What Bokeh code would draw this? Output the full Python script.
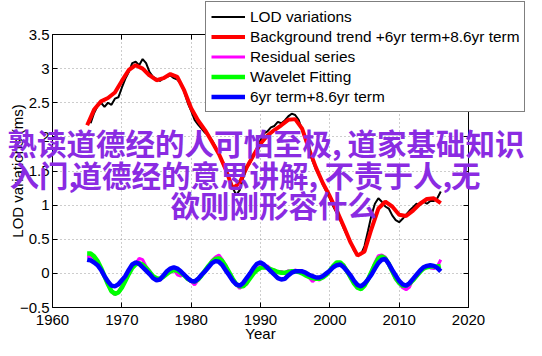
import numpy as np
from bokeh.plotting import figure
from bokeh.models import (Legend, LegendItem, LinearAxis, Label, FixedTicker,
                          Range1d, CustomJSTickFormatter)
from bokeh.embed import file_html
from bokeh.resources import INLINE

# ---------------- data ----------------
x_ticks = [1960, 1970, 1980, 1990, 2000, 2010, 2020]
y_ticks = [-0.5, 0, 0.5, 1, 1.5, 2, 2.5, 3, 3.5]
y_tick_labels = ["\u22120.5", "0", "0.5", "1", "1.5", "2", "2.5", "3", "3.5"]
x_lim = (1960, 2020)
y_lim = (-0.5, 3.5)

trend_years = list(range(1965, 2017))
trend_vals = [2.17, 2.40, 2.52, 2.57, 2.65, 2.82, 2.98, 3.05, 3.00, 2.90,
              2.83, 2.86, 2.92, 2.88, 2.68, 2.42, 2.24, 2.10, 1.93, 1.75,
              1.52, 1.24, 1.33, 1.55, 1.73, 1.90, 2.02, 2.10, 2.17, 2.25,
              2.26, 2.12, 1.82, 1.55, 1.32, 1.13, 0.92, 0.69, 0.45, 0.26,
              0.32, 0.65, 0.95, 1.05, 0.98, 0.86, 0.84, 0.92, 1.02, 1.09,
              1.10, 1.03]

lod_start = 1965.5
lod_vals = [2.20, 2.35, 2.45, 2.50, 2.44, 2.50, 2.47, 2.56, 2.58, 2.72,
            2.85, 2.95, 3.08, 3.10, 3.05, 3.14, 3.08, 2.95, 2.88, 2.85,
            2.82, 2.86, 2.88, 2.90, 2.86, 2.84, 2.78, 2.66, 2.50, 2.38,
            2.25, 2.18, 2.12, 2.06, 2.02, 1.95, 1.86, 1.75, 1.62, 1.50,
            1.38, 1.25, 1.15, 1.22, 1.40, 1.55, 1.62, 1.72, 1.85, 1.95,
            2.05, 2.08, 2.14, 2.16, 2.22, 2.20, 2.24, 2.30, 2.34, 2.32,
            2.25, 2.10, 1.95, 1.80, 1.65, 1.52, 1.42, 1.30, 1.20, 1.10,
            0.98, 0.88, 0.78, 0.66, 0.55, 0.45, 0.33, 0.27, 0.28, 0.40,
            0.62, 0.85, 1.02, 1.10, 1.05, 0.98, 0.95, 0.85, 0.78, 0.75,
            0.80, 0.86, 0.92, 0.97, 1.02, 1.00, 1.05, 1.02, 1.06, 1.06,
            1.10, 1.20]

osc_start = 1965.0
residual_vals = [0.24, 0.25, 0.20, 0.16, 0.05, -0.06, -0.17, -0.27, -0.31, -0.27,
                 -0.18, -0.12, 0.02, 0.12, 0.14, 0.22, 0.20, 0.10, 0.04, -0.05,
                 -0.08, -0.10, -0.04, 0.02, 0.01, 0.05, -0.02, -0.04, 0.00, -0.09,
                 -0.12, -0.17, -0.10, -0.04, 0.05, 0.10, 0.19, 0.24, 0.27, 0.20,
                 0.12, 0.00, -0.10, -0.17, -0.22, -0.18, -0.16, -0.06, 0.02, 0.06,
                 0.10, 0.08, 0.11, 0.06, 0.05, 0.01, 0.03, 0.00, 0.04, 0.02,
                 0.05, 0.03, 0.04, -0.02, -0.06, -0.12, -0.08, -0.10, -0.05, 0.00,
                 0.05, 0.10, 0.15, 0.14, 0.13, 0.02, -0.08, -0.14, -0.22, -0.21,
                 -0.17, -0.07, 0.03, 0.16, 0.26, 0.27, 0.24, 0.12, 0.02, -0.09,
                 -0.15, -0.21, -0.24, -0.20, -0.08, -0.05, 0.04, 0.06, 0.10, 0.08,
                 0.07, 0.10, 0.20]

wavelet_vals = [0.29, 0.29, 0.25, 0.18, 0.08, -0.04, -0.16, -0.26, -0.30, -0.28,
                -0.21, -0.11, -0.01, 0.08, 0.13, 0.15, 0.13, 0.08, 0.02, -0.04,
                -0.07, -0.08, -0.05, -0.01, 0.03, 0.05, 0.04, 0.01, -0.03, -0.08,
                -0.11, -0.12, -0.09, -0.03, 0.04, 0.11, 0.17, 0.21, 0.22, 0.18,
                0.10, 0.01, -0.08, -0.16, -0.19, -0.19, -0.14, -0.07, 0.00, 0.05,
                0.08, 0.09, 0.08, 0.06, 0.04, 0.02, 0.01, 0.01, 0.02, 0.03,
                0.03, 0.02, 0.00, -0.03, -0.05, -0.07, -0.08, -0.08, -0.06, -0.02,
                0.04, 0.11, 0.16, 0.16, 0.11, 0.03, -0.06, -0.15, -0.21, -0.23,
                -0.18, -0.09, 0.02, 0.13, 0.22, 0.25, 0.22, 0.14, 0.03, -0.07,
                -0.14, -0.18, -0.18, -0.15, -0.10, -0.04, 0.02, 0.07, 0.09, 0.10,
                0.10, 0.10, 0.11]

terms_vals = [0.20, 0.19, 0.16, 0.12, 0.05, -0.04, -0.12, -0.18, -0.19, -0.16,
              -0.10, -0.04, 0.05, 0.13, 0.16, 0.14, 0.09, 0.04, -0.01, -0.07,
              -0.10, -0.09, -0.03, 0.03, 0.07, 0.09, 0.07, 0.03, -0.02, -0.07,
              -0.11, -0.12, -0.08, -0.02, 0.03, 0.09, 0.15, 0.18, 0.17, 0.12,
              0.04, -0.03, -0.11, -0.16, -0.18, -0.14, -0.07, 0.00, 0.08, 0.14,
              0.16, 0.13, 0.08, 0.03, -0.02, -0.07, -0.09, -0.08, -0.03, 0.01,
              0.03, 0.03, 0.03, 0.01, -0.02, -0.04, -0.06, -0.06, -0.04, 0.00,
              0.04, 0.09, 0.12, 0.13, 0.09, 0.03, -0.03, -0.11, -0.17, -0.19,
              -0.15, -0.09, -0.02, 0.07, 0.15, 0.20, 0.21, 0.14, 0.05, -0.03,
              -0.11, -0.16, -0.18, -0.14, -0.08, -0.02, 0.04, 0.09, 0.11, 0.12,
              0.11, 0.08, 0.03]

series_names = ["LOD variations", "Background trend +6yr term+8.6yr term",
                "Residual series", "Wavelet Fitting", "6yr term+8.6yr term"]

# overlay caption, one list of pieces per text line
overlay_lines = [["熟读道德经的人可怕至极,", "道家基础知识"],
                 ["入门,", "道德经的意思讲解,", "不责于人,", "无"],
                 ["欲则刚形容什么"]]


def half_years(start, n):
    return [start + 0.5 * i for i in range(n)]


# ---------------- layout (pixels) ----------------
W, H = 526, 340
BOX_L, BOX_R, BOX_T, BOX_B = 52, 468, 34, 307   # axes box inside the canvas
ppx = (BOX_R - BOX_L) / (x_lim[1] - x_lim[0])
ppy = (BOX_B - BOX_T) / (y_lim[1] - y_lim[0])
xr = Range1d(x_lim[0] - BOX_L / ppx, x_lim[1] + (W - BOX_R) / ppx)
yr = Range1d(y_lim[0] - (H - BOX_B) / ppy, y_lim[1] + BOX_T / ppy)


def px_x(px):
    return xr.start + px / ppx


def px_y(py):
    return yr.end - py / ppy


FONT = "Liberation Sans"
p = figure(width=W, height=H, output_backend="svg", toolbar_location=None,
           x_range=xr, y_range=yr, min_border=0, title=None,
           background_fill_color="white", border_fill_color="white")
p.outline_line_color = None

p.xaxis.fixed_location = y_lim[0]
p.xaxis.bounds = x_lim
p.yaxis.fixed_location = x_lim[0]
p.yaxis.bounds = y_lim

for ax in (p.xaxis[0], p.yaxis[0]):
    ax.axis_line_color = "black"
    ax.major_tick_in = 5
    ax.major_tick_out = 0
    ax.minor_tick_in = 0
    ax.minor_tick_out = 0
    ax.major_label_text_font = FONT
    ax.major_label_text_font_size = "15px"
    ax.major_label_text_color = "black"
    ax.axis_label_text_font = FONT
    ax.axis_label_text_font_size = "15px"
    ax.axis_label_text_font_style = "normal"
    ax.axis_label_text_color = "black"

p.xaxis.ticker = FixedTicker(ticks=x_ticks)
p.yaxis.ticker = FixedTicker(ticks=y_ticks)
p.yaxis.major_label_overrides = {float(t): s for t, s in zip(y_ticks, y_tick_labels)}
p.xaxis.axis_label = "Year"
p.yaxis.axis_label = "LOD variations (ms)"
p.xaxis.major_label_standoff = 7
p.xaxis.axis_label_standoff = -3
p.yaxis.major_label_standoff = 3
p.yaxis.axis_label_standoff = -9

blank = CustomJSTickFormatter(code="return ''")
for loc, tk, fl, bd in (("right", y_ticks, x_lim[1], y_lim),
                        ("above", x_ticks, y_lim[1], x_lim)):
    a = LinearAxis(ticker=FixedTicker(ticks=tk), formatter=blank,
                   fixed_location=fl, bounds=bd,
                   major_tick_in=5, major_tick_out=0, minor_tick_in=0,
                   minor_tick_out=0, major_label_standoff=0,
                   axis_line_color="black")
    p.add_layout(a, loc)

p.xgrid.cross_bounds = y_lim
p.ygrid.cross_bounds = x_lim
p.xgrid.bounds = x_lim
p.ygrid.bounds = y_lim
for g in (p.xgrid[0], p.ygrid[0]):
    g.grid_line_color = "#9a9a9a"
    g.grid_line_dash = "1 3"
    g.grid_line_width = 1

r_lod = p.line(half_years(lod_start, len(lod_vals)), lod_vals,
               line_color="black", line_width=2)
r_trend = p.line(trend_years, trend_vals, line_color="#ff0000", line_width=4)
r_res = p.line(half_years(osc_start, len(residual_vals)), residual_vals,
               line_color="#ff00ff", line_width=3)
r_wav = p.line(half_years(osc_start, len(wavelet_vals)), wavelet_vals,
               line_color="#00ff00", line_width=4.5)
r_terms = p.line(half_years(osc_start, len(terms_vals)), terms_vals,
                 line_color="#0000ff", line_width=4.5)

legend = Legend(items=[LegendItem(label=n, renderers=[r]) for n, r in
                       zip(series_names, [r_lod, r_trend, r_res, r_wav, r_terms])],
                location=(205, H - 112), orientation="vertical")
legend.label_text_font = FONT
legend.label_text_font_size = "15.4px"
legend.label_text_color = "black"
legend.label_height = 19
legend.glyph_height = 19
legend.glyph_width = 34
legend.label_standoff = 5
legend.spacing = 1
legend.padding = 5
legend.margin = 0
legend.border_line_color = "black"
legend.border_line_width = 1
legend.background_fill_alpha = 1
p.add_layout(legend)

# pixel anchor of each piece: (x, y_center, align)
overlay_px = [[(7, 141.5, "left"), (524, 141.5, "right")],
              [(9, 173.5, "left"), (72, 173.5, "left"), (324, 173.5, "left"),
               (480, 173.5, "right")],
              [(170, 203.5, "left")]]
for pieces, anchors in zip(overlay_lines, overlay_px):
    for txt, (lx, ly, al) in zip(pieces, anchors):
        p.add_layout(Label(x=px_x(lx), y=px_y(ly), text=txt,
                           text_font="Noto Sans CJK SC",
                           text_font_size="29.5px", text_font_style="bold",
                           text_color="#8a2be2", text_baseline="middle",
                           text_align=al))

open("out.html", "w").write(file_html(p, INLINE))
